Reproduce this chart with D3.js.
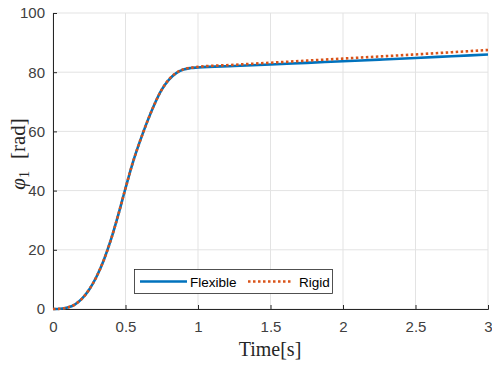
<!DOCTYPE html>
<html>
<head>
<meta charset="utf-8">
<script src="https://cdn.jsdelivr.net/npm/d3@7"></script>
<style>
  body { margin: 0; background: #fff; }
  svg { display: block; }
</style>
</head>
<body>
<div id="chart"></div>
<script>
// time samples [s]
var time = [0, 0.05, 0.1, 0.15, 0.2, 0.25, 0.3, 0.35, 0.4, 0.45, 0.5,
            0.55, 0.6, 0.65, 0.7, 0.75, 0.8, 0.85, 0.9, 0.95, 1.0,
            1.25, 1.5, 1.75, 2.0, 2.25, 2.5, 2.75, 3.0];

// phi_1 [rad]
var flexible = [0, 0.1, 0.5, 1.5, 3.5, 6.6, 10.9, 16.5, 23.5, 31.8, 40.8,
                49.4, 56.7, 63.3, 69.2, 74.1, 77.5, 79.7, 80.9, 81.4, 81.6,
                82.1, 82.6, 83.15, 83.7, 84.25, 84.8, 85.4, 86.0];
var rigid = [0, 0.1, 0.5, 1.5, 3.5, 6.6, 10.9, 16.5, 23.5, 31.8, 40.8,
             49.4, 56.7, 63.3, 69.2, 74.1, 77.6, 79.8, 81.0, 81.5, 81.8,
             82.5, 83.2, 83.9, 84.6, 85.3, 86.0, 86.75, 87.5];

var seriesNames = ["Flexible", "Rigid"];
var xTicks = [0, 0.5, 1, 1.5, 2, 2.5, 3];
var yTicks = [0, 20, 40, 60, 80, 100];

var svgWidth = 492, svgHeight = 370;
var margin = {top: 13, right: 4, bottom: 61, left: 53};
var chartWidth = svgWidth - margin.left - margin.right;
var chartHeight = svgHeight - margin.top - margin.bottom;

var svg = d3.select("#chart").append("svg")
  .attr("width", svgWidth)
  .attr("height", svgHeight);

var g = svg.append("g")
  .attr("transform", `translate(${margin.left}, ${margin.top})`);

var x = d3.scaleLinear().domain([0, 3]).range([0, chartWidth]);
var y = d3.scaleLinear().domain([0, 100]).range([chartHeight, 0]);

// grid
g.append("g").selectAll("line").data(xTicks).enter().append("line")
  .attr("x1", d => x(d)).attr("x2", d => x(d))
  .attr("y1", 0).attr("y2", chartHeight)
  .attr("stroke", "#e3e3e3").attr("stroke-width", 1);
g.append("g").selectAll("line").data(yTicks).enter().append("line")
  .attr("x1", 0).attr("x2", chartWidth)
  .attr("y1", d => y(d)).attr("y2", d => y(d))
  .attr("stroke", "#e3e3e3").attr("stroke-width", 1);

// axes
var xAxis = d3.axisBottom(x).tickValues(xTicks).tickSize(-4).tickPadding(12)
  .tickFormat(d3.format("~g"));
var yAxis = d3.axisLeft(y).tickValues(yTicks).tickSize(-4).tickPadding(8);

var gx = g.append("g").attr("transform", `translate(0, ${chartHeight})`).call(xAxis);
var gy = g.append("g").call(yAxis);

[gx, gy].forEach(function(a) {
  a.select(".domain").attr("stroke", "#262626").attr("stroke-width", 1);
  a.selectAll(".tick line").attr("stroke", "#262626");
  a.selectAll(".tick text")
    .attr("fill", "#404040")
    .attr("font-family", "Liberation Sans, Arial, sans-serif")
    .attr("font-size", "15px");
});

// lines
var line = d3.line()
  .x((d, i) => x(time[i]))
  .y(d => y(d))
  .curve(d3.curveMonotoneX);

g.append("path").datum(flexible)
  .attr("d", line)
  .attr("fill", "none")
  .attr("stroke", "#0072BD")
  .attr("stroke-width", 2.6);

g.append("path").datum(rigid)
  .attr("d", line)
  .attr("fill", "none")
  .attr("stroke", "#D95319")
  .attr("stroke-width", 2.6)
  .attr("stroke-dasharray", "2.5,2.5");

// axis labels
svg.append("text")
  .attr("x", 270).attr("y", 356)
  .attr("text-anchor", "middle")
  .attr("font-family", "Liberation Serif, serif")
  .attr("font-size", "20px")
  .attr("fill", "#262626")
  .text("Time[s]");

var yl = svg.append("text")
  .attr("transform", "translate(25, 154) rotate(-90)")
  .attr("text-anchor", "middle")
  .attr("font-family", "Liberation Serif, serif")
  .attr("font-size", "21px")
  .attr("fill", "#262626");
yl.append("tspan").attr("font-style", "italic").text("φ");
yl.append("tspan").attr("font-size", "14px").attr("dy", 4).text("1");
yl.append("tspan").attr("dy", -4).attr("dx", 12).text("[rad]");

// legend
var legend = svg.append("g");
legend.append("rect")
  .attr("x", 134.5).attr("y", 269.5)
  .attr("width", 198).attr("height", 24)
  .attr("fill", "#fff")
  .attr("stroke", "#262626")
  .attr("stroke-width", 0.8);

var legendItems = [
  {name: seriesNames[0], color: "#0072BD", dash: null, x0: 140, x1: 187, tx: 190},
  {name: seriesNames[1], color: "#D95319", dash: "2.5,2.5", x0: 248, x1: 293, tx: 299}
];
legendItems.forEach(function(item) {
  legend.append("line")
    .attr("x1", item.x0).attr("x2", item.x1)
    .attr("y1", 281.5).attr("y2", 281.5)
    .attr("stroke", item.color)
    .attr("stroke-width", 2.6)
    .attr("stroke-dasharray", item.dash);
  legend.append("text")
    .attr("x", item.tx).attr("y", 286.5)
    .attr("font-family", "Liberation Sans, Arial, sans-serif")
    .attr("font-size", "13.5px")
    .attr("fill", "#000")
    .text(item.name);
});
</script>
</body>
</html>
